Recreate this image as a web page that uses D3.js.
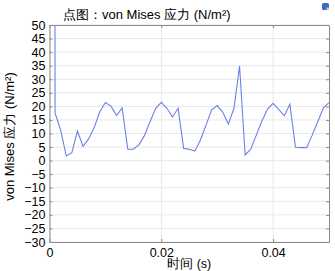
<!DOCTYPE html>
<html>
<head>
<meta charset="utf-8">
<script src="https://cdn.jsdelivr.net/npm/d3@7"></script>
<style>
  body { margin: 0; background: #fff; }
  text { font-family: "Liberation Sans", Arial, sans-serif; fill: #000; }
</style>
</head>
<body>
<div id="container"></div>
<script>
/* DATA */
const times = d3.range(51).map(i => i * 0.001)
const stress = [2000, 17.5, 11.2, 1.7, 2.9, 10.9, 5.3, 8.0, 12.2, 18.0,
  21.4, 20.1, 16.6, 19.4, 4.2, 4.2, 5.8, 9.3, 14.4, 19.3,
  21.5, 19.3, 16.1, 19.3, 4.5, 4.2, 3.5, 7.6, 13.1, 18.7,
  20.3, 17.8, 13.5, 19.3, 34.9, 2.1, 4.2, 9.4, 14.6, 19.0,
  21.1, 18.9, 16.5, 20.8, 4.9, 4.8, 4.8, 9.4, 14.4, 19.5, 21.4]
const xTicks = [0, 0.02, 0.04]
const yTicks = d3.range(-30, 51, 5)
const title = "点图：von Mises 应力 (N/m²)"
const xLabel = "时间 (s)"
const yLabel = "von Mises 应力 (N/m²)"

const data = times.map((t, i) => ({ t, v: stress[i] }))

/* CONSTANTS */
const width = 335,
  height = 271,
  margin = { top: 25, bottom: 29, left: 49.5, right: 6 }

const svg = d3.select("#container")
  .append("svg")
  .attr("width", width)
  .attr("height", height)

/* SCALES */
const xScale = d3.scaleLinear()
  .domain([0, 0.05])
  .range([margin.left, width - margin.right])

const yScale = d3.scaleLinear()
  .domain([-30, 50])
  .range([height - margin.bottom, margin.top])

// grid
svg.append("g")
  .selectAll("line.hg")
  .data(yTicks)
  .join("line")
  .attr("x1", margin.left).attr("x2", width - margin.right)
  .attr("y1", d => yScale(d)).attr("y2", d => yScale(d))
  .attr("stroke", "#e8e8e8")

svg.append("g")
  .selectAll("line.vg")
  .data(xTicks)
  .join("line")
  .attr("y1", margin.top).attr("y2", height - margin.bottom)
  .attr("x1", d => xScale(d)).attr("x2", d => xScale(d))
  .attr("stroke", "#e8e8e8")

// axes
const leftAxis = svg.append("g")
  .attr("transform", `translate(${margin.left},0)`)
  .call(d3.axisLeft(yScale).tickValues(yTicks).tickSizeInner(-3).tickSizeOuter(0).tickPadding(4))
const rightAxis = svg.append("g")
  .attr("transform", `translate(${width - margin.right},0)`)
  .call(d3.axisRight(yScale).tickValues(yTicks).tickSizeInner(-3).tickSizeOuter(0).tickFormat(""))
const bottomAxis = svg.append("g")
  .attr("transform", `translate(0,${height - margin.bottom})`)
  .call(d3.axisBottom(xScale).tickValues(xTicks).tickSizeInner(-3).tickSizeOuter(0).tickPadding(6)
    .tickFormat(d => d === 0 ? "0" : d3.format(".2f")(d)))
const topAxis = svg.append("g")
  .attr("transform", `translate(0,${margin.top})`)
  .call(d3.axisTop(xScale).tickValues(xTicks).tickSizeInner(-3).tickSizeOuter(0).tickFormat(""))

;[leftAxis, rightAxis, bottomAxis, topAxis].forEach(g => {
  g.selectAll("path").attr("stroke", "#8a8a8a")
  g.selectAll("line").attr("stroke", "#8a8a8a")
  g.selectAll("text").attr("font-size", 12.5).attr("font-family", "Liberation Sans, Arial, sans-serif").attr("fill", "#000")
})

// clip
svg.append("clipPath").attr("id", "clip")
  .append("rect")
  .attr("x", margin.left).attr("y", margin.top)
  .attr("width", width - margin.left - margin.right)
  .attr("height", height - margin.top - margin.bottom)

// line
const line = d3.line()
  .x(d => xScale(d.t))
  .y(d => yScale(d.v))

svg.append("path")
  .datum(data)
  .attr("clip-path", "url(#clip)")
  .attr("fill", "none")
  .attr("stroke", "#6b80e6")
  .attr("stroke-width", 1.1)
  .attr("d", line)

// labels
svg.append("text")
  .attr("x", 63).attr("y", 19)
  .attr("font-size", 13)
  .text(title)

svg.append("text")
  .attr("x", (margin.left + width - margin.right) / 2)
  .attr("y", 268)
  .attr("text-anchor", "middle")
  .attr("font-size", 12.5)
  .text(xLabel)

svg.append("text")
  .attr("transform", `translate(14,${(margin.top + height - margin.bottom) / 2 + 3}) rotate(-90)`)
  .attr("text-anchor", "middle")
  .attr("font-size", 13)
  .text(yLabel)

// little icon top right
const icon = svg.append("g").attr("transform", "translate(322,3)")
icon.append("rect").attr("width", 7).attr("height", 7).attr("rx", 1.5).attr("fill", "#3a66d8")
icon.append("rect").attr("x", 4.5).attr("y", 4.5).attr("width", 2.5).attr("height", 2.5).attr("fill", "#e8d050")
</script>
</body>
</html>
